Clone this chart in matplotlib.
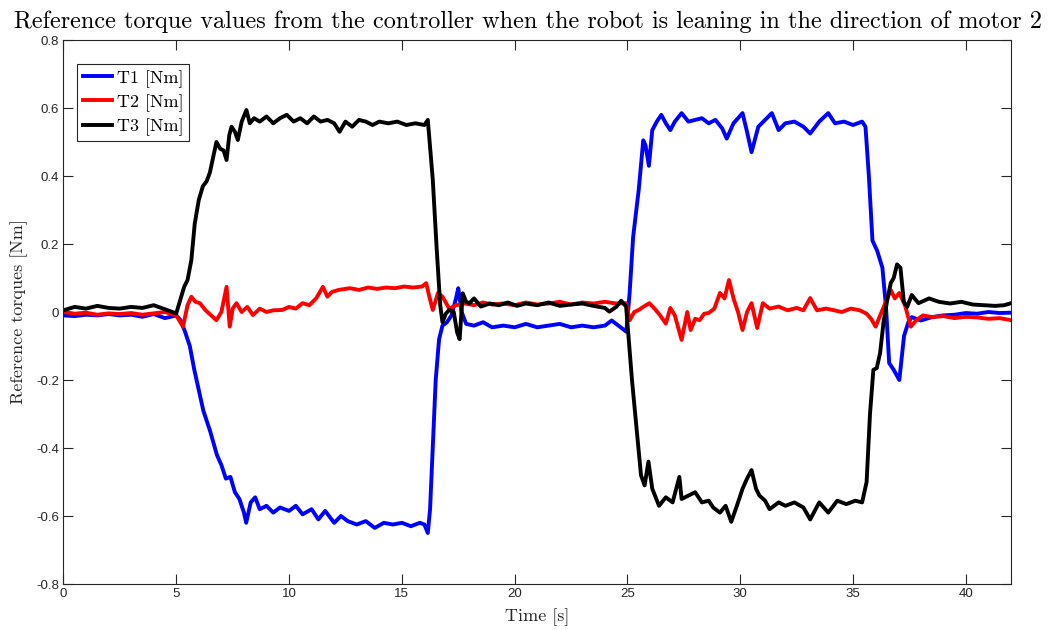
import numpy as np
import matplotlib
matplotlib.use("Agg")
import matplotlib.pyplot as plt

# ============= Data =============

t1 = [0, 0.5, 1, 1.5, 2, 2.5, 3, 3.5, 4, 4.5, 5.0, 5.2, 5.4, 5.6, 5.8, 6.0, 6.2, 6.5, 6.8,
      7.0, 7.2, 7.4, 7.6, 7.8, 8.0, 8.1, 8.3, 8.5, 8.7, 9.0, 9.3, 9.6, 10.0, 10.3, 10.6,
      11.0, 11.3, 11.6, 12.0, 12.3, 12.6, 13.0, 13.4, 13.8, 14.2, 14.6, 15.0, 15.4, 15.8,
      16.0, 16.15, 16.25, 16.4, 16.5, 16.65, 16.8, 17.0, 17.2, 17.4, 17.5, 17.65, 17.85,
      18.2, 18.6, 19.0, 19.5, 20.0, 20.5, 21.0, 21.5, 22.0, 22.5, 23.0, 23.5, 24.0, 24.3,
      24.6, 24.95, 25.1, 25.25, 25.5, 25.7, 25.8, 25.95, 26.1, 26.3, 26.5, 26.7, 26.9,
      27.1, 27.4, 27.7, 28.0, 28.3, 28.6, 28.9, 29.2, 29.4, 29.7, 30.1, 30.3, 30.5, 30.8,
      31.1, 31.4, 31.7, 32.0, 32.4, 32.8, 33.1, 33.5, 33.9, 34.2, 34.6, 35.0, 35.4, 35.55,
      35.7, 35.86, 36.07, 36.3, 36.46, 36.6, 36.8, 37.05, 37.26, 37.45, 37.6, 38.0, 38.5,
      39.0, 39.5, 40.0, 40.5, 41.0, 41.5, 42.0]
T1 = [-0.010, -0.012, -0.008, -0.010, -0.006, -0.010, -0.008, -0.014, -0.006, -0.018,
      -0.010, -0.025, -0.060, -0.100, -0.170, -0.230, -0.290, -0.350, -0.420, -0.450,
      -0.490, -0.485, -0.530, -0.550, -0.590, -0.620, -0.560, -0.545, -0.580, -0.570,
      -0.590, -0.575, -0.585, -0.570, -0.595, -0.580, -0.610, -0.585, -0.620, -0.600,
      -0.615, -0.625, -0.615, -0.635, -0.620, -0.625, -0.620, -0.630, -0.620, -0.625,
      -0.650, -0.580, -0.350, -0.200, -0.080, -0.040, -0.030, -0.010, 0.040, 0.070,
      0.000, -0.035, -0.040, -0.030, -0.045, -0.040, -0.045, -0.035, -0.045, -0.040,
      -0.035, -0.045, -0.040, -0.045, -0.040, -0.025, -0.040, -0.058, 0.060, 0.220,
      0.360, 0.505, 0.490, 0.430, 0.535, 0.560, 0.580, 0.555, 0.535, 0.560, 0.585,
      0.560, 0.565, 0.570, 0.555, 0.565, 0.540, 0.510, 0.555, 0.585, 0.530, 0.470,
      0.545, 0.565, 0.585, 0.535, 0.555, 0.560, 0.545, 0.525, 0.560, 0.585, 0.555,
      0.560, 0.550, 0.560, 0.545, 0.400, 0.210, 0.180, 0.130, 0.015, -0.150, -0.170,
      -0.200, -0.070, -0.030, -0.015, -0.025, -0.015, -0.010, -0.008, -0.003, -0.005,
      0.000, -0.003, -0.002]

t2 = [0, 0.5, 1, 1.5, 2, 2.5, 3, 3.5, 4, 4.5, 5.0, 5.3, 5.5, 5.67, 5.85, 6.05, 6.3, 6.55,
      6.78, 7.0, 7.23, 7.37, 7.5, 7.67, 7.9, 8.15, 8.4, 8.7, 9.0, 9.3, 9.7, 10.0, 10.3,
      10.6, 10.9, 11.2, 11.5, 11.7, 11.9, 12.2, 12.7, 13.1, 13.5, 13.9, 14.3, 14.7, 15.1,
      15.5, 15.9, 16.08, 16.2, 16.37, 16.6, 16.8, 17.1, 17.4, 17.8, 18.2, 18.6, 19.0,
      19.5, 20.0, 20.5, 21.0, 21.5, 22.0, 22.5, 23.0, 23.5, 24.0, 24.5, 24.94, 25.1, 25.3,
      25.5, 25.7, 25.97, 26.2, 26.45, 26.7, 26.9, 27.1, 27.4, 27.65, 27.8, 28.0, 28.2,
      28.4, 28.6, 28.85, 29.1, 29.3, 29.5, 29.7, 29.9, 30.1, 30.3, 30.5, 30.75, 31.0,
      31.3, 31.7, 32.1, 32.5, 32.8, 33.1, 33.4, 33.8, 34.1, 34.5, 34.9, 35.3, 35.6, 35.8,
      36.0, 36.2, 36.45, 36.67, 36.85, 37.05, 37.3, 37.56, 37.8, 38.1, 38.5, 39.0, 39.5,
      40.0, 40.5, 41.0, 41.5, 42.0]
T2 = [0.000, -0.005, -0.002, -0.008, -0.004, -0.006, -0.003, -0.008, -0.004, 0.000,
      -0.010, -0.043, 0.020, 0.045, 0.030, 0.026, 0.005, -0.010, -0.024, 0.000, 0.074,
      -0.043, 0.010, 0.026, 0.000, 0.015, -0.009, 0.010, 0.000, 0.005, 0.006, 0.015,
      0.010, 0.026, 0.020, 0.040, 0.074, 0.045, 0.059, 0.065, 0.070, 0.065, 0.072,
      0.068, 0.072, 0.070, 0.075, 0.072, 0.075, 0.085, 0.050, 0.006, 0.056, 0.045,
      0.010, 0.020, 0.025, 0.020, 0.028, 0.022, 0.025, 0.020, 0.028, 0.022, 0.025,
      0.030, 0.022, 0.028, 0.025, 0.030, 0.025, 0.026, -0.024, 0.000, 0.006, 0.015,
      0.026, 0.010, -0.010, -0.034, 0.012, -0.010, -0.082, 0.000, -0.053, -0.020,
      -0.024, -0.005, -0.003, 0.010, 0.056, 0.040, 0.094, 0.040, 0.000, -0.053, 0.000,
      0.026, -0.047, 0.026, 0.010, 0.016, 0.005, 0.012, 0.005, 0.041, 0.005, 0.010,
      0.006, 0.000, 0.010, 0.005, -0.005, -0.020, -0.043, -0.010, 0.030, 0.065, 0.040,
      0.056, 0.020, -0.043, -0.024, -0.010, -0.015, -0.012, -0.018, -0.014, -0.016,
      -0.020, -0.018, -0.024]

t3 = [0, 0.5, 1, 1.5, 2, 2.5, 3, 3.5, 4, 4.5, 5.0, 5.2, 5.35, 5.5, 5.67, 5.82, 6.0, 6.18,
      6.35, 6.49, 6.65, 6.78, 6.95, 7.1, 7.23, 7.35, 7.45, 7.6, 7.73, 7.9, 8.11, 8.26,
      8.45, 8.7, 9.0, 9.3, 9.6, 9.9, 10.2, 10.5, 10.8, 11.1, 11.4, 11.7, 12.0, 12.24,
      12.5, 12.8, 13.1, 13.4, 13.7, 14.0, 14.4, 14.8, 15.2, 15.6, 16.0, 16.15, 16.37,
      16.54, 16.7, 16.8, 16.95, 17.1, 17.3, 17.45, 17.56, 17.7, 17.85, 18.0, 18.2, 18.5,
      18.9, 19.3, 19.7, 20.1, 20.5, 21.0, 21.5, 22.0, 22.5, 23.0, 23.5, 24.0, 24.2, 24.5,
      24.72, 24.94, 25.2, 25.45, 25.6, 25.76, 25.93, 26.1, 26.4, 26.7, 27.0, 27.3, 27.4,
      27.7, 28.0, 28.3, 28.6, 28.8, 29.1, 29.35, 29.6, 29.85, 30.1, 30.3, 30.5, 30.7,
      30.85, 31.1, 31.3, 31.7, 32.0, 32.4, 32.8, 33.1, 33.5, 33.9, 34.3, 34.7, 35.1,
      35.4, 35.6, 35.75, 35.9, 36.05, 36.2, 36.35, 36.5, 36.67, 36.8, 36.95, 37.1, 37.25,
      37.4, 37.6, 37.9, 38.37, 38.8, 39.3, 39.8, 40.3, 40.8, 41.3, 41.7, 42.0]
T3 = [0.005, 0.015, 0.010, 0.018, 0.012, 0.010, 0.015, 0.012, 0.020, 0.008, -0.004,
      0.040, 0.074, 0.094, 0.153, 0.260, 0.330, 0.370, 0.385, 0.410, 0.460, 0.500,
      0.480, 0.475, 0.447, 0.520, 0.545, 0.530, 0.506, 0.560, 0.594, 0.555, 0.570,
      0.560, 0.575, 0.555, 0.570, 0.580, 0.560, 0.570, 0.555, 0.575, 0.560, 0.565,
      0.555, 0.530, 0.560, 0.545, 0.565, 0.560, 0.550, 0.560, 0.555, 0.560, 0.550,
      0.555, 0.550, 0.565, 0.390, 0.190, 0.020, -0.030, -0.005, 0.006, 0.000, -0.060,
      -0.080, 0.055, 0.030, 0.026, 0.040, 0.016, 0.025, 0.020, 0.028, 0.018, 0.025,
      0.020, 0.028, 0.018, 0.022, 0.025, 0.018, 0.012, 0.001, 0.015, 0.033, 0.016,
      -0.200, -0.376, -0.480, -0.510, -0.440, -0.520, -0.570, -0.545, -0.560, -0.485,
      -0.550, -0.540, -0.530, -0.560, -0.555, -0.575, -0.590, -0.570, -0.617, -0.570,
      -0.520, -0.490, -0.465, -0.520, -0.540, -0.555, -0.580, -0.560, -0.570, -0.560,
      -0.575, -0.610, -0.560, -0.590, -0.555, -0.565, -0.555, -0.560, -0.500, -0.300,
      -0.170, -0.165, -0.120, -0.030, 0.030, 0.085, 0.100, 0.140, 0.130, 0.030, 0.015,
      0.050, 0.026, 0.040, 0.030, 0.025, 0.030, 0.022, 0.020, 0.018, 0.020, 0.026]

labels = ["T1 [Nm]", "T2 [Nm]", "T3 [Nm]"]
colors = ["#0000ff", "#ff0000", "#000000"]

x_ticks = [0, 5, 10, 15, 20, 25, 30, 35, 40]
y_ticks = [-0.8, -0.6, -0.4, -0.2, 0, 0.2, 0.4, 0.6, 0.8]
y_tick_labels = ["-0.8", "-0.6", "-0.4", "-0.2", "0", "0.2", "0.4", "0.6", "0.8"]

# ============= Plot =============

serif = "cmr10"
tick_font = "Liberation Sans"

fig = plt.figure(figsize=(10.54, 6.30), dpi=100)
ax = fig.add_axes([0.0602, 0.073, 0.8990, 0.8635])

for t, v, lab, c in zip([t1, t2, t3], [T1, T2, T3], labels, colors):
    ax.plot(t, v, color=c, linewidth=2.8, label=lab)

ax.set_xlim(0, 42)
ax.set_ylim(-0.8, 0.8)
ax.set_xticks(x_ticks)
ax.set_xticklabels([str(x) for x in x_ticks], fontfamily=tick_font, fontsize=9.5)
ax.set_yticks(y_ticks)
ax.set_yticklabels(y_tick_labels, fontfamily=tick_font, fontsize=9.5)
ax.tick_params(direction="in", length=7, width=0.8, top=True, right=True,
               colors="#262626", pad=3)
for s in ax.spines.values():
    s.set_linewidth(0.8)
    s.set_color("#262626")

ax.set_xlabel("Time [s]", fontfamily=serif, fontsize=13, labelpad=6, color="#262626")
ax.set_ylabel("Reference torques [Nm]", fontfamily=serif, fontsize=13, labelpad=6,
              color="#262626")
ax.set_title("Reference torque values from the controller when the robot is leaning "
             "in the direction of motor 2", fontfamily=serif, fontsize=17.5, pad=9,
             x=0.490)

leg = ax.legend(loc="upper left", bbox_to_anchor=(0.0145, 0.955),
                prop={"family": serif, "size": 13},
                fancybox=False, framealpha=1, edgecolor="#262626", handlelength=1.65,
                handletextpad=0.25, borderpad=0.3, labelspacing=0.35, borderaxespad=0)
leg.get_frame().set_linewidth(0.8)

fig.savefig("out.png", dpi=100)
